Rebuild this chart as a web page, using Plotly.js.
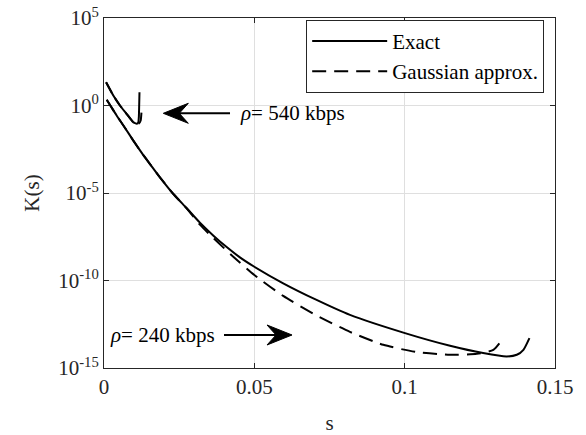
<!DOCTYPE html>
<html>
<head>
<meta charset="utf-8">
<script src="https://cdn.plot.ly/plotly-3.0.1.min.js"></script>
<style>html,body{margin:0;padding:0;background:#fff}#chart{width:586px;height:435px}</style>
</head>
<body>
<div id="chart"></div>
<script>
// rho = 540 kbps
var s540Exact = [0.0007, 0.0031, 0.0053, 0.0075, 0.0097, 0.0109, 0.0114, 0.0116, 0.0117, 0.0118];
var K540Exact = [21.3, 3.72, 1.0, 0.336, 0.112, 0.0906, 0.107, 0.236, 1.0, 5.73];
var s540Gauss = [0.0007, 0.0031, 0.0053, 0.0075, 0.0097, 0.0109, 0.0116, 0.0122, 0.0125];
var K540Gauss = [21.3, 3.72, 1.0, 0.336, 0.112, 0.0906, 0.094, 0.140, 0.519];
// rho = 240 kbps
var s240Exact = [0.0009, 0.0020, 0.0042, 0.0070, 0.0097, 0.0125, 0.0153, 0.0186, 0.0230, 0.0275, 0.0319, 0.0364, 0.0408, 0.0452, 0.0500, 0.0596, 0.0707, 0.0818, 0.1001, 0.1151, 0.1261, 0.1339, 0.1373, 0.1395, 0.1415];
var K240Exact = [2.11, 1.07, 0.269, 0.0522, 0.01014, 2.02e-3, 4.47e-4, 7.89e-5, 9.06e-6, 1.35e-6, 2.02e-7, 3.66e-8, 8.11e-9, 2.10e-9, 6.11e-10, 6.92e-11, 7.74e-12, 1.08e-12, 9.82e-14, 1.85e-14, 7.11e-15, 4.55e-15, 5.69e-15, 1.10e-14, 5.09e-14];
var s240Gauss = [0.0009, 0.0020, 0.0042, 0.0070, 0.0097, 0.0125, 0.0153, 0.0186, 0.0230, 0.0275, 0.0319, 0.0364, 0.0430, 0.0500, 0.0596, 0.0707, 0.0818, 0.0929, 0.1040, 0.1151, 0.1240, 0.1295, 0.1328];
var K240Gauss = [2.11, 1.07, 0.269, 0.0522, 0.01014, 2.02e-3, 4.47e-4, 7.89e-5, 9.06e-6, 1.35e-6, 1.55e-7, 2.64e-8, 2.27e-9, 2.06e-10, 1.31e-11, 1.01e-12, 1.16e-13, 2.11e-14, 8.11e-15, 5.69e-15, 6.49e-15, 1.10e-14, 5.09e-14];
// axis ticks
var xTickVals = [0, 0.05, 0.1, 0.15];
var xTickText = ['0', '0.05', '0.1', '0.15'];
var yTickVals = [1e-15, 1e-10, 1e-5, 1, 1e5];
var yTickText = ['10<sup>-15</sup>', '10<sup>-10</sup>', '10<sup>-5</sup>', '10<sup>0</sup>', '10<sup>5</sup>'];
var seriesNames = ['Exact', 'Gaussian approx.'];

var FONT = 'Times New Roman, Liberation Serif, serif';
var FS = 21;
var solid = {color: '#000', width: 2, shape: 'spline', smoothing: 0.6};
var dashed = {color: '#000', width: 2, dash: '14px,8px', shape: 'spline', smoothing: 0.6};
var solidS = {color: '#000', width: 2, shape: 'spline', smoothing: 0.4};
var dashedS = {color: '#000', width: 2, dash: '12px,6px', shape: 'spline', smoothing: 0.4};

var traces = [
  {x: s240Exact, y: K240Exact, mode: 'lines', line: solid, name: seriesNames[0], legendgroup: 'e', showlegend: true},
  {x: s240Gauss, y: K240Gauss, mode: 'lines', line: dashed, name: seriesNames[1], legendgroup: 'g', showlegend: true},
  {x: s540Gauss, y: K540Gauss, mode: 'lines', line: dashedS, name: seriesNames[1], legendgroup: 'g', showlegend: false},
  {x: s540Exact, y: K540Exact, mode: 'lines', line: solidS, name: seriesNames[0], legendgroup: 'e', showlegend: false}
];

function headPath(dir) {
  var L = 25 * dir, N = 16 * dir, W = 10;
  return 'M0,0 L' + L + ',' + W + ' L' + N + ',0 L' + L + ',' + (-W) + ' Z';
}

var layout = {
  width: 586, height: 435,
  margin: {l: 104, r: 31, t: 18, b: 67},
  paper_bgcolor: '#fff', plot_bgcolor: '#fff',
  font: {family: FONT, size: FS, color: '#262626'},
  showlegend: true,
  legend: {
    x: 0.976, y: 0.995, xanchor: 'right', yanchor: 'top',
    bgcolor: '#fff', bordercolor: '#262626', borderwidth: 1,
    font: {family: FONT, size: FS, color: '#000'},
    itemwidth: 75, tracegroupgap: 0
  },
  xaxis: {
    range: [0, 0.15], tickmode: 'array', tickvals: xTickVals, ticktext: xTickText,
    ticks: 'inside', ticklen: 5, tickcolor: '#262626',
    showline: true, linecolor: '#262626', linewidth: 1, mirror: 'ticks',
    showgrid: true, gridcolor: '#dfdfdf', gridwidth: 1, zeroline: false,
    tickfont: {family: FONT, size: FS, color: '#262626'},
    title: {text: 's', font: {family: FONT, size: FS, color: '#262626'}, standoff: 18}
  },
  yaxis: {
    type: 'log', range: [-15, 5], tickmode: 'array', tickvals: yTickVals, ticktext: yTickText,
    ticks: 'inside', ticklen: 5, tickcolor: '#262626',
    showline: true, linecolor: '#262626', linewidth: 1, mirror: 'ticks',
    showgrid: true, gridcolor: '#dfdfdf', gridwidth: 1, zeroline: false,
    tickfont: {family: FONT, size: FS, color: '#262626'},
    title: {text: 'K(s)', font: {family: FONT, size: FS, color: '#262626'}, standoff: 12}
  },
  shapes: [
    {type: 'line', xref: 'paper', yref: 'paper', x0: 0.2794, x1: 0.1415, y0: 0.7277, y1: 0.7277, line: {color: '#000', width: 2}},
    {type: 'path', xref: 'paper', yref: 'paper', xsizemode: 'pixel', ysizemode: 'pixel', xanchor: 0.1315, yanchor: 0.7277,
     path: headPath(1), fillcolor: '#000', line: {color: '#000', width: 1}},
    {type: 'line', xref: 'paper', yref: 'paper', x0: 0.2661, x1: 0.4069, y0: 0.0943, y1: 0.0943, line: {color: '#000', width: 2}},
    {type: 'path', xref: 'paper', yref: 'paper', xsizemode: 'pixel', ysizemode: 'pixel', xanchor: 0.4169, yanchor: 0.0943,
     path: headPath(-1), fillcolor: '#000', line: {color: '#000', width: 1}}
  ],
  annotations: [
    {xref: 'paper', yref: 'paper', x: 0.2971, y: 0.7277, xanchor: 'left', yanchor: 'middle', showarrow: false,
     text: '<i>ρ</i>= 540 kbps', font: {family: FONT, size: FS, color: '#000'}},
    {xref: 'paper', yref: 'paper', x: 0.2506, y: 0.0943, xanchor: 'right', yanchor: 'middle', showarrow: false,
     text: '<i>ρ</i>= 240 kbps', font: {family: FONT, size: FS, color: '#000'}}
  ]
};

Plotly.newPlot('chart', traces, layout, {staticPlot: true, displayModeBar: false});
</script>
</body>
</html>
